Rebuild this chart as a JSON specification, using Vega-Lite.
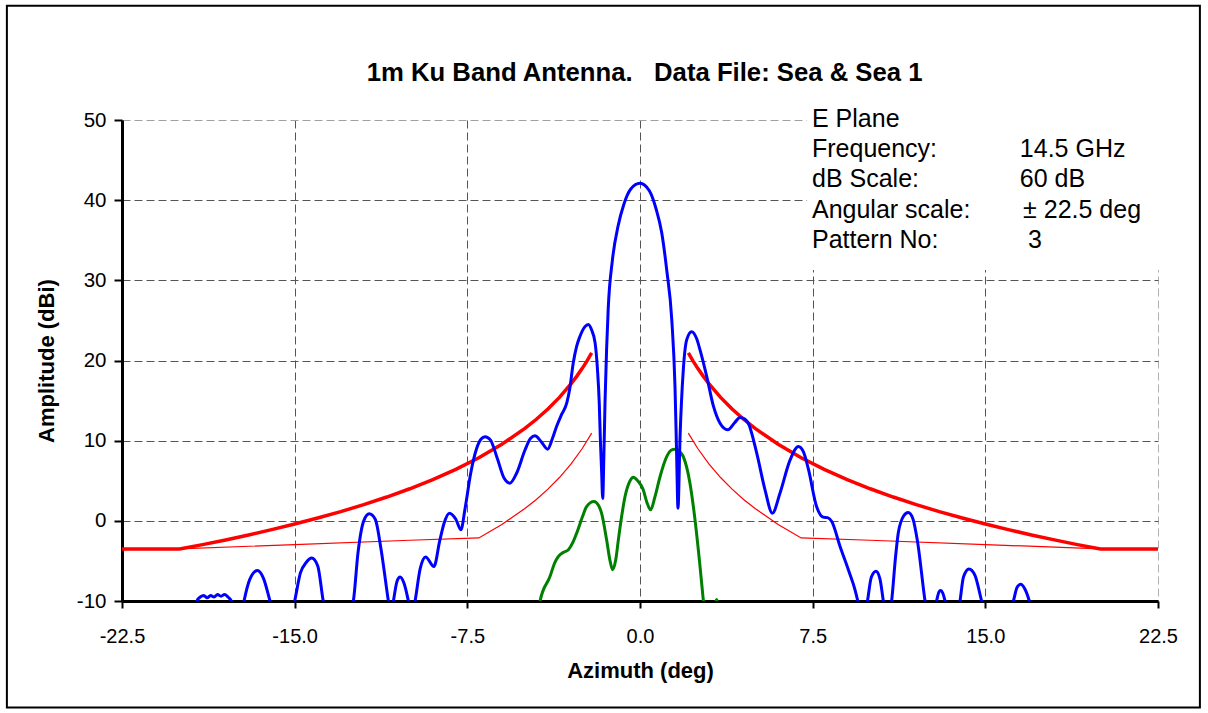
{
  "$schema": "https://vega.github.io/schema/vega-lite/v6.json",
  "width": 1036,
  "height": 481,
  "autosize": {"type": "none"},
  "padding": {"left": 122, "top": 120, "right": 50, "bottom": 112},
  "background": "white",
  "view": {"stroke": null},
  "datasets": {
    "blue": [
      {"az": -19.5, "amp": -14}, {"az": -19.25, "amp": -10}, {"az": -19.1, "amp": -9.5}, {"az": -18.95, "amp": -9.3}, {"az": -18.8, "amp": -9.6}, {"az": -18.65, "amp": -9.3}, {"az": -18.5, "amp": -9.5}, {"az": -18.35, "amp": -9.2}, {"az": -18.2, "amp": -9.4}, {"az": -18.05, "amp": -9.2}, {"az": -17.9, "amp": -9.5}, {"az": -17.75, "amp": -10}, {"az": -17.5, "amp": -15},
      {"az": -17.2, "amp": -10}, {"az": -16.95, "amp": -7.3}, {"az": -16.62, "amp": -6.2}, {"az": -16.35, "amp": -7.2}, {"az": -16.07, "amp": -10}, {"az": -15.5, "amp": -15},
      {"az": -15.0, "amp": -10}, {"az": -14.75, "amp": -6.5}, {"az": -14.5, "amp": -5.2}, {"az": -14.26, "amp": -4.65}, {"az": -14.0, "amp": -5.6}, {"az": -13.76, "amp": -10}, {"az": -13.1, "amp": -16},
      {"az": -12.45, "amp": -10}, {"az": -12.25, "amp": -4}, {"az": -12.0, "amp": 0.0}, {"az": -11.76, "amp": 0.87}, {"az": -11.5, "amp": 0.2}, {"az": -11.25, "amp": -3.5}, {"az": -10.93, "amp": -10}, {"az": -10.82, "amp": -12},
      {"az": -10.71, "amp": -10}, {"az": -10.55, "amp": -7.5}, {"az": -10.42, "amp": -7.0}, {"az": -10.25, "amp": -7.8}, {"az": -10.06, "amp": -10}, {"az": -9.92, "amp": -12},
      {"az": -9.77, "amp": -10}, {"az": -9.55, "amp": -6}, {"az": -9.31, "amp": -4.5}, {"az": -8.95, "amp": -5.7}, {"az": -8.7, "amp": -2.5}, {"az": -8.5, "amp": -0.2}, {"az": -8.28, "amp": 0.96}, {"az": -8.0, "amp": 0.2}, {"az": -7.78, "amp": -1.12}, {"az": -7.6, "amp": 1.5}, {"az": -7.35, "amp": 6.0}, {"az": -7.1, "amp": 9.0}, {"az": -6.9, "amp": 10.2}, {"az": -6.73, "amp": 10.5}, {"az": -6.5, "amp": 10.1}, {"az": -6.2, "amp": 7.8}, {"az": -5.9, "amp": 5.3}, {"az": -5.65, "amp": 4.7}, {"az": -5.35, "amp": 6.0}, {"az": -5.0, "amp": 8.8}, {"az": -4.75, "amp": 10.3}, {"az": -4.56, "amp": 10.6}, {"az": -4.3, "amp": 9.9}, {"az": -4.01, "amp": 8.94}, {"az": -3.8, "amp": 10.3}, {"az": -3.62, "amp": 11.8}, {"az": -3.4, "amp": 13.3}, {"az": -3.18, "amp": 14.7}, {"az": -3.05, "amp": 16.5}, {"az": -2.9, "amp": 19.7}, {"az": -2.75, "amp": 21.8}, {"az": -2.61, "amp": 23.0}, {"az": -2.4, "amp": 24.2}, {"az": -2.24, "amp": 24.5}, {"az": -2.1, "amp": 23.8}, {"az": -1.95, "amp": 22.2}, {"az": -1.85, "amp": 19}, {"az": -1.77, "amp": 14.7}, {"az": -1.72, "amp": 10}, {"az": -1.67, "amp": 6.4}, {"az": -1.62, "amp": 2.8}, {"az": -1.57, "amp": 8}, {"az": -1.52, "amp": 14.7}, {"az": -1.45, "amp": 21.5}, {"az": -1.38, "amp": 26.5}, {"az": -1.2, "amp": 32.5}, {"az": -0.95, "amp": 36.8}, {"az": -0.7, "amp": 39.5}, {"az": -0.4, "amp": 41.4}, {"az": 0, "amp": 42.1}, {"az": 0.4, "amp": 41.2}, {"az": 0.7, "amp": 38.9}, {"az": 0.94, "amp": 36.0}, {"az": 1.16, "amp": 31.3}, {"az": 1.38, "amp": 25.1}, {"az": 1.52, "amp": 16.75}, {"az": 1.59, "amp": 8.44}, {"az": 1.65, "amp": 1.58}, {"az": 1.74, "amp": 10.5}, {"az": 1.88, "amp": 18.8}, {"az": 2.03, "amp": 22.6}, {"az": 2.24, "amp": 23.6}, {"az": 2.45, "amp": 22.8}, {"az": 2.61, "amp": 21.3}, {"az": 2.9, "amp": 18}, {"az": 3.19, "amp": 14.3}, {"az": 3.47, "amp": 12.2}, {"az": 3.81, "amp": 11.35}, {"az": 4.1, "amp": 12.2}, {"az": 4.34, "amp": 12.9}, {"az": 4.55, "amp": 12.7}, {"az": 4.7, "amp": 12.2}, {"az": 5.07, "amp": 8.44}, {"az": 5.43, "amp": 3.87}, {"az": 5.75, "amp": 0.96}, {"az": 6.08, "amp": 3.45}, {"az": 6.52, "amp": 7.6}, {"az": 6.88, "amp": 9.27}, {"az": 7.1, "amp": 8.6}, {"az": 7.31, "amp": 6.5}, {"az": 7.67, "amp": 1.78}, {"az": 7.96, "amp": 0.46}, {"az": 8.15, "amp": 0.4}, {"az": 8.33, "amp": -0.08}, {"az": 8.69, "amp": -3.2}, {"az": 9.05, "amp": -6.1}, {"az": 9.34, "amp": -8.6}, {"az": 9.46, "amp": -10}, {"az": 9.67, "amp": -13},
      {"az": 9.88, "amp": -10}, {"az": 10.05, "amp": -7}, {"az": 10.25, "amp": -6.3}, {"az": 10.42, "amp": -7.2}, {"az": 10.57, "amp": -10}, {"az": 10.75, "amp": -13},
      {"az": 10.93, "amp": -10}, {"az": 11.1, "amp": -4.5}, {"az": 11.22, "amp": -1.5}, {"az": 11.45, "amp": 0.6}, {"az": 11.65, "amp": 1.04}, {"az": 11.85, "amp": 0.3}, {"az": 12.05, "amp": -2.5}, {"az": 12.38, "amp": -10}, {"az": 12.6, "amp": -14},
      {"az": 12.88, "amp": -10}, {"az": 13.0, "amp": -8.8}, {"az": 13.06, "amp": -8.7}, {"az": 13.15, "amp": -9.0}, {"az": 13.25, "amp": -10}, {"az": 13.55, "amp": -14},
      {"az": 13.9, "amp": -10}, {"az": 14.05, "amp": -7.0}, {"az": 14.29, "amp": -6.0}, {"az": 14.55, "amp": -6.8}, {"az": 14.84, "amp": -10}, {"az": 15.5, "amp": -16},
      {"az": 16.22, "amp": -10}, {"az": 16.38, "amp": -8.3}, {"az": 16.54, "amp": -7.9}, {"az": 16.7, "amp": -8.4}, {"az": 16.91, "amp": -10}, {"az": 17.2, "amp": -14}
    ],
    "green": [
      {"az": -4.5, "amp": -13}, {"az": -4.34, "amp": -10}, {"az": -3.91, "amp": -6.95}, {"az": -3.7, "amp": -5.2}, {"az": -3.55, "amp": -4.45}, {"az": -3.3, "amp": -3.9}, {"az": -3.11, "amp": -3.6}, {"az": -2.9, "amp": -2.6}, {"az": -2.75, "amp": -1.53}, {"az": -2.5, "amp": 0.5}, {"az": -2.32, "amp": 1.78}, {"az": -2.0, "amp": 2.4}, {"az": -1.8, "amp": 1.9}, {"az": -1.67, "amp": 0.96}, {"az": -1.45, "amp": -2.37}, {"az": -1.3, "amp": -5.0}, {"az": -1.19, "amp": -6.1}, {"az": -1.05, "amp": -4.8}, {"az": -0.94, "amp": -2.37}, {"az": -0.8, "amp": 0.5}, {"az": -0.65, "amp": 3.03}, {"az": -0.45, "amp": 4.9}, {"az": -0.29, "amp": 5.45}, {"az": -0.1, "amp": 5.0}, {"az": 0.14, "amp": 3.87}, {"az": 0.3, "amp": 2.3}, {"az": 0.46, "amp": 1.37}, {"az": 0.65, "amp": 3.0}, {"az": 0.87, "amp": 5.5}, {"az": 1.16, "amp": 8.0}, {"az": 1.35, "amp": 8.8}, {"az": 1.52, "amp": 8.94}, {"az": 1.7, "amp": 8.7}, {"az": 1.88, "amp": 8.0}, {"az": 2.17, "amp": 4.7}, {"az": 2.39, "amp": 0.12}, {"az": 2.58, "amp": -4.9}, {"az": 2.75, "amp": -9.9}, {"az": 2.85, "amp": -13}, {"az": 3.2, "amp": -11}, {"az": 3.33, "amp": -9.8}, {"az": 3.45, "amp": -12}
    ],
    "env": [
      {"side": "L", "az": -22.5, "amp": -3.5}, {"side": "L", "az": -20, "amp": -3.5}, {"side": "L", "az": -19, "amp": -2.97}, {"side": "L", "az": -18, "amp": -2.38}, {"side": "L", "az": -17, "amp": -1.76}, {"side": "L", "az": -16, "amp": -1.1}, {"side": "L", "az": -15, "amp": -0.4}, {"side": "L", "az": -14, "amp": 0.35}, {"side": "L", "az": -13, "amp": 1.15}, {"side": "L", "az": -12, "amp": 2.02}, {"side": "L", "az": -11, "amp": 2.97}, {"side": "L", "az": -10, "amp": 4.0}, {"side": "L", "az": -9, "amp": 5.14}, {"side": "L", "az": -8, "amp": 6.42}, {"side": "L", "az": -7, "amp": 7.87}, {"side": "L", "az": -6, "amp": 9.55}, {"side": "L", "az": -5, "amp": 11.53}, {"side": "L", "az": -4.5, "amp": 12.67}, {"side": "L", "az": -4, "amp": 13.95}, {"side": "L", "az": -3.5, "amp": 15.4}, {"side": "L", "az": -3, "amp": 17.07}, {"side": "L", "az": -2.75, "amp": 18.02}, {"side": "L", "az": -2.5, "amp": 19.05}, {"side": "L", "az": -2.3, "amp": 19.96}, {"side": "L", "az": -2.1, "amp": 20.94},
      {"side": "R", "az": 2.1, "amp": 20.94}, {"side": "R", "az": 2.3, "amp": 19.96}, {"side": "R", "az": 2.5, "amp": 19.05}, {"side": "R", "az": 2.75, "amp": 18.02}, {"side": "R", "az": 3, "amp": 17.07}, {"side": "R", "az": 3.5, "amp": 15.4}, {"side": "R", "az": 4, "amp": 13.95}, {"side": "R", "az": 4.5, "amp": 12.67}, {"side": "R", "az": 5, "amp": 11.53}, {"side": "R", "az": 6, "amp": 9.55}, {"side": "R", "az": 7, "amp": 7.87}, {"side": "R", "az": 8, "amp": 6.42}, {"side": "R", "az": 9, "amp": 5.14}, {"side": "R", "az": 10, "amp": 4.0}, {"side": "R", "az": 11, "amp": 2.97}, {"side": "R", "az": 12, "amp": 2.02}, {"side": "R", "az": 13, "amp": 1.15}, {"side": "R", "az": 14, "amp": 0.35}, {"side": "R", "az": 15, "amp": -0.4}, {"side": "R", "az": 16, "amp": -1.1}, {"side": "R", "az": 17, "amp": -1.76}, {"side": "R", "az": 18, "amp": -2.38}, {"side": "R", "az": 19, "amp": -2.97}, {"side": "R", "az": 20, "amp": -3.5}, {"side": "R", "az": 22.5, "amp": -3.5}
    ],
    "thin": [
      {"side": "L", "az": -22.5, "amp": -3.5}, {"side": "L", "az": -20, "amp": -3.5}, {"side": "L", "az": -15, "amp": -2.96}, {"side": "L", "az": -10, "amp": -2.42}, {"side": "L", "az": -7, "amp": -2.13}, {"side": "L", "az": -6, "amp": -0.45}, {"side": "L", "az": -5, "amp": 1.53}, {"side": "L", "az": -4.5, "amp": 2.67}, {"side": "L", "az": -4, "amp": 3.95}, {"side": "L", "az": -3.5, "amp": 5.4}, {"side": "L", "az": -3, "amp": 7.07}, {"side": "L", "az": -2.5, "amp": 9.05}, {"side": "L", "az": -2.1, "amp": 10.94},
      {"side": "R", "az": 2.1, "amp": 10.94}, {"side": "R", "az": 2.5, "amp": 9.05}, {"side": "R", "az": 3, "amp": 7.07}, {"side": "R", "az": 3.5, "amp": 5.4}, {"side": "R", "az": 4, "amp": 3.95}, {"side": "R", "az": 4.5, "amp": 2.67}, {"side": "R", "az": 5, "amp": 1.53}, {"side": "R", "az": 6, "amp": -0.45}, {"side": "R", "az": 7, "amp": -2.13}, {"side": "R", "az": 10, "amp": -2.42}, {"side": "R", "az": 15, "amp": -2.96}, {"side": "R", "az": 20, "amp": -3.5}, {"side": "R", "az": 22.5, "amp": -3.5}
    ],
    "note": [{"kind": "note"}]
  },
  "layer": [
    {"data": {"name": "thin"}, "mark": {"type": "line", "color": "#ff0000", "strokeWidth": 1.2},
      "encoding": {
        "x": {"field": "az", "type": "quantitative", "scale": {"domain": [-22.5, 22.5], "nice": false, "zero": false},
          "axis": {"values": [-22.5, -15, -7.5, 0, 7.5, 15, 22.5], "labelExpr": "replace(format(datum.value, '.1f'), '−', '-')", "title": "Azimuth (deg)",
            "grid": true, "gridDash": [8, 4], "gridWidth": 1, "gridColor": {"condition": {"test": "datum.value == 22.5", "value": "#b0b0b0"}, "value": "#555555"},
            "domainColor": "black", "domainWidth": 3, "tickColor": "black", "tickWidth": 2, "tickSize": 7,
            "labelFont": "Liberation Sans", "labelFontSize": 20, "labelColor": "black", "labelPadding": 18, "labelFlush": false, "labelOverlap": false,
            "titleFont": "Liberation Sans", "titleFontSize": 22, "titleFontWeight": "bold", "titleColor": "black", "titlePadding": 14}},
        "y": {"field": "amp", "type": "quantitative", "scale": {"domain": [-10, 50], "nice": false, "zero": false},
          "axis": {"values": [-10, 0, 10, 20, 30, 40, 50], "labelExpr": "replace(format(datum.value, 'd'), '−', '-')", "title": "Amplitude (dBi)",
            "grid": true, "gridDash": [8, 4], "gridWidth": 1, "gridColor": {"condition": {"test": "datum.value == 50", "value": "#a0a0a0"}, "value": "#555555"},
            "domainColor": "black", "domainWidth": 3, "tickColor": "black", "tickWidth": 2, "tickSize": 8,
            "labelFont": "Liberation Sans", "labelFontSize": 20.5, "labelColor": "black", "labelPadding": 8, "labelFlush": false, "labelOverlap": false,
            "titleFont": "Liberation Sans", "titleFontSize": 22, "titleFontWeight": "bold", "titleColor": "black", "titlePadding": 18}},
        "detail": {"field": "side"}}},
    {"data": {"name": "env"}, "mark": {"type": "line", "color": "#ff0000", "strokeWidth": 3.5},
      "encoding": {"x": {"field": "az", "type": "quantitative"}, "y": {"field": "amp", "type": "quantitative"}, "detail": {"field": "side"}}},
    {"data": {"name": "green"}, "mark": {"type": "line", "color": "#008000", "strokeWidth": 3, "clip": true, "interpolate": "monotone"},
      "encoding": {"x": {"field": "az", "type": "quantitative"}, "y": {"field": "amp", "type": "quantitative"}}},
    {"data": {"name": "blue"}, "mark": {"type": "line", "color": "#0000ff", "strokeWidth": 3, "clip": true, "interpolate": "monotone"},
      "encoding": {"x": {"field": "az", "type": "quantitative"}, "y": {"field": "amp", "type": "quantitative"}}},
    {"data": {"name": "note"}, "mark": {"type": "rect", "fill": "white", "clip": false},
      "encoding": {"x": {"datum": 7.25}, "x2": {"datum": 23.2}, "y": {"datum": 31.3}, "y2": {"datum": 52}}},
    {"data": {"name": "note"}, "mark": {"type": "text", "text": ["E Plane", "Frequency:", "dB Scale:", "Angular scale:", "Pattern No:"], "lineHeight": 30.4, "align": "left", "baseline": "alphabetic", "font": "Liberation Sans", "fontSize": 25, "color": "black"},
      "encoding": {"x": {"datum": 7.47}, "y": {"datum": 49.18}}},
    {"data": {"name": "note"}, "mark": {"type": "text", "text": "14.5 GHz", "align": "left", "baseline": "alphabetic", "font": "Liberation Sans", "fontSize": 25, "color": "black"},
      "encoding": {"x": {"datum": 16.5}, "y": {"datum": 45.4}}},
    {"data": {"name": "note"}, "mark": {"type": "text", "text": "60 dB", "align": "left", "baseline": "alphabetic", "font": "Liberation Sans", "fontSize": 25, "color": "black"},
      "encoding": {"x": {"datum": 16.5}, "y": {"datum": 41.6}}},
    {"data": {"name": "note"}, "mark": {"type": "text", "text": "± 22.5 deg", "align": "left", "baseline": "alphabetic", "font": "Liberation Sans", "fontSize": 25, "color": "black"},
      "encoding": {"x": {"datum": 16.64}, "y": {"datum": 37.8}}},
    {"data": {"name": "note"}, "mark": {"type": "text", "text": "3", "align": "left", "baseline": "alphabetic", "font": "Liberation Sans", "fontSize": 25, "color": "black"},
      "encoding": {"x": {"datum": 16.85}, "y": {"datum": 34.0}}},
    {"data": {"name": "note"}, "mark": {"type": "text", "text": "1m Ku Band Antenna.\u00a0\u00a0\u00a0Data File: Sea & Sea 1", "align": "center", "baseline": "alphabetic", "font": "Liberation Sans", "fontSize": 25.7, "fontWeight": "bold", "color": "black", "clip": false},
      "encoding": {"x": {"datum": 0.2}, "y": {"datum": 54.85}}},
    {"data": {"name": "note"}, "mark": {"type": "rect", "fill": null, "stroke": "black", "strokeWidth": 2, "clip": false},
      "encoding": {"x": {"datum": -27.5}, "x2": {"datum": 24.32}, "y": {"datum": 64.24}, "y2": {"datum": -23.3}}}
  ]
}
